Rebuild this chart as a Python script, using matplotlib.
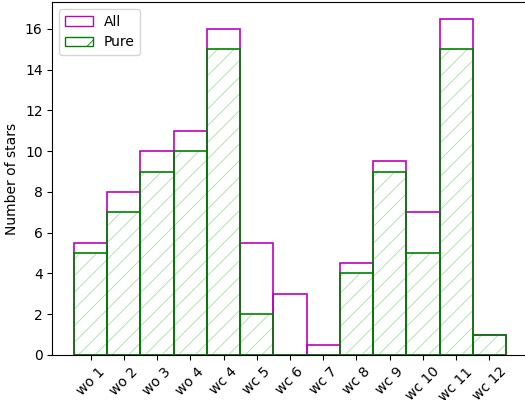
import numpy as np
import matplotlib
matplotlib.use("Agg")
import matplotlib.pyplot as plt
from matplotlib.patches import Patch

labels = ["wo 1", "wo 2", "wo 3", "wo 4", "wc 4", "wc 5", "wc 6",
          "wc 7", "wc 8", "wc 9", "wc 10", "wc 11", "wc 12"]
n_all = [5.5, 8, 10, 11, 16, 5.5, 3, 0.5, 4.5, 9.5, 7, 16.5, 1]
n_pure = [5, 7, 9, 10, 15, 2, 0, 0, 4, 9, 5, 15, 1]

plt.rcParams["hatch.linewidth"] = 0.6

x = np.arange(len(labels))

fig = plt.figure(figsize=(5.25, 4), dpi=100)
# axes runs a little past the right edge, like the cropped original
ax = fig.add_axes([52.4 / 525, 45 / 400, 475.2 / 525, 353 / 400])

ax.bar(x, n_all, width=1, fill=False, edgecolor="m", linewidth=1.2)
# light hatch, then solid green outline on top
ax.bar(x, n_pure, width=1, fill=False, edgecolor=(0, 0.65, 0, 0.35),
       hatch="//", linewidth=0)
ax.bar(x, n_pure, width=1, fill=False, edgecolor="g", linewidth=1.2)

ax.set_xticks(x)
ax.set_xticklabels(labels, rotation=45, ha="center")
ax.set_ylabel("Number of stars")

handles = [Patch(facecolor="none", edgecolor="m", label="All"),
           Patch(facecolor="none", edgecolor="g", hatch="/", label="Pure")]
ax.legend(handles=handles, loc="upper left")

fig.savefig("out.png", dpi=100)
